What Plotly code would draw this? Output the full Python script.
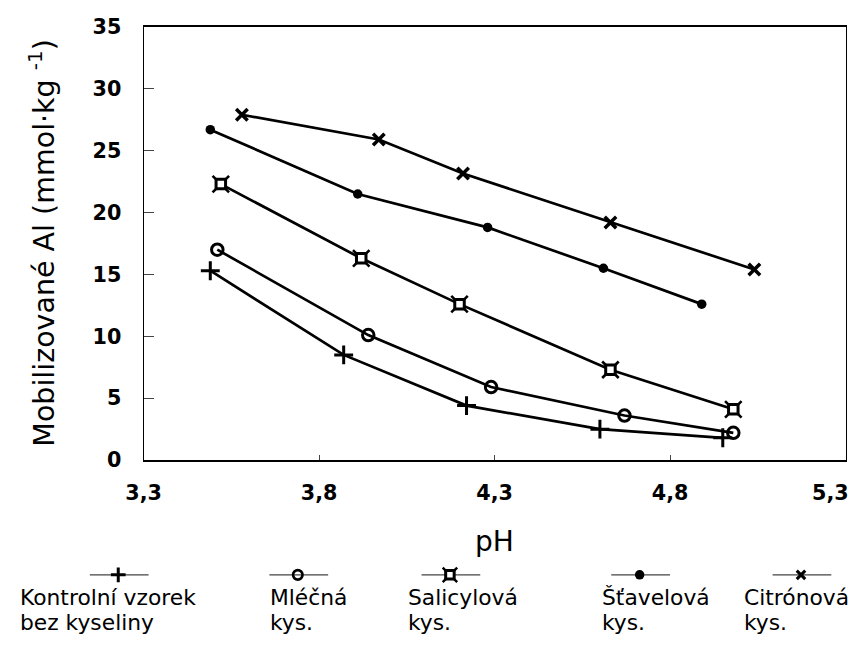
import plotly.graph_objects as go

# pH values and mobilised Al (mmol/kg) for each extraction
ph_kontrolni = [3.49, 3.87, 4.22, 4.60, 4.95]
al_kontrolni = [15.3, 8.5, 4.4, 2.5, 1.8]

ph_mlecna = [3.51, 3.94, 4.29, 4.67, 4.98]
al_mlecna = [17.0, 10.1, 5.9, 3.6, 2.2]

ph_salicylova = [3.52, 3.92, 4.20, 4.63, 4.98]
al_salicylova = [22.3, 16.3, 12.6, 7.3, 4.1]

ph_stavelova = [3.49, 3.91, 4.28, 4.61, 4.89]
al_stavelova = [26.7, 21.5, 18.8, 15.5, 12.6]

ph_citronova = [3.58, 3.97, 4.21, 4.63, 5.04]
al_citronova = [27.9, 25.9, 23.15, 19.2, 15.4]

# legend labels, two lines each
label_line1 = ["Kontrolní vzorek", "Mléčná", "Salicylová", "Šťavelová", "Citrónová"]
label_line2 = ["bez kyseliny", "kys.", "kys.", "kys.", "kys."]

x_tick_vals = [3.3, 3.8, 4.3, 4.8, 5.3]
x_tick_text = ["3,3", "3,8", "4,3", "4,8", "5,3"]
y_tick_vals = [0, 5, 10, 15, 20, 25, 30, 35]
y_tick_text = ["0", "5", "10", "15", "20", "25", "30", "35"]

W, H = 856, 648
PX_L, PX_R, PX_T, PX_B = 128.3, 845.4, 15.5, 465.3  # plot box in pixels

FONT = "DejaVu Sans, Liberation Sans, Arial, sans-serif"
BLACK = "#000000"

fig = go.Figure()

# marker styles for the five series
styles = [
    dict(symbol="cross-thin-open", size=13.5, color=BLACK, line=dict(width=3, color=BLACK)),
    dict(symbol="circle-open", size=11.5, color=BLACK, line=dict(width=3, color=BLACK)),
    None,  # salicylic acid: square with crossed corners (two layers)
    dict(symbol="circle", size=9.5, color=BLACK, line=dict(width=0, color=BLACK)),
    dict(symbol="x-thin-open", size=11.5, color=BLACK, line=dict(width=3.5, color=BLACK)),
]

data = [
    (ph_kontrolni, al_kontrolni),
    (ph_mlecna, al_mlecna),
    (ph_salicylova, al_salicylova),
    (ph_stavelova, al_stavelova),
    (ph_citronova, al_citronova),
]

for i, (xs, ys) in enumerate(data):
    name = label_line1[i] + " " + label_line2[i]
    fig.add_trace(go.Scatter(
        x=xs, y=ys, mode="lines", line=dict(color=BLACK, width=2.7),
        hoverinfo="skip", cliponaxis=False,
    ))
    if styles[i] is not None:
        fig.add_trace(go.Scatter(
            x=xs, y=ys, mode="markers", marker=styles[i], cliponaxis=False, name=name,
        ))
    else:
        fig.add_trace(go.Scatter(
            x=xs, y=ys, mode="markers", cliponaxis=False, hoverinfo="skip",
            marker=dict(symbol="x-thin-open", size=16.5, color=BLACK,
                        line=dict(width=2.6, color=BLACK)),
        ))
        fig.add_trace(go.Scatter(
            x=xs, y=ys, mode="markers", cliponaxis=False, name=name,
            marker=dict(symbol="square", size=9.5, color="white",
                        line=dict(width=3, color=BLACK)),
        ))

# legend samples on a full-page pixel axis (x2/y2)
leg_x = [102.4, 285.8, 441.2, 635.0, 799.8]
leg_text_x = [1.0, 256.8, 397.7, 595.6, 741.0]
leg_y = 584.5
leg_styles = [
    dict(symbol="cross-thin-open", size=10.5, color=BLACK, line=dict(width=3, color=BLACK)),
    dict(symbol="circle-open", size=9.5, color=BLACK, line=dict(width=2.6, color=BLACK)),
    None,
    dict(symbol="circle", size=9.5, color=BLACK, line=dict(width=0)),
    dict(symbol="x-thin-open", size=8.5, color=BLACK, line=dict(width=3, color=BLACK)),
]
for i, lx in enumerate(leg_x):
    fig.add_trace(go.Scatter(
        x=[lx - 29, lx + 31], y=[leg_y, leg_y], mode="lines",
        line=dict(color="#444444", width=1.2), xaxis="x2", yaxis="y2",
        hoverinfo="skip", cliponaxis=False,
    ))
    if leg_styles[i] is not None:
        fig.add_trace(go.Scatter(
            x=[lx], y=[leg_y], mode="markers", marker=leg_styles[i],
            xaxis="x2", yaxis="y2", hoverinfo="skip", cliponaxis=False,
        ))
    else:
        fig.add_trace(go.Scatter(
            x=[lx], y=[leg_y], mode="markers", xaxis="x2", yaxis="y2",
            hoverinfo="skip", cliponaxis=False,
            marker=dict(symbol="x-thin-open", size=14.5, color=BLACK,
                        line=dict(width=2.5, color=BLACK)),
        ))
        fig.add_trace(go.Scatter(
            x=[lx], y=[leg_y], mode="markers", xaxis="x2", yaxis="y2",
            hoverinfo="skip", cliponaxis=False,
            marker=dict(symbol="square", size=8.5, color="white",
                        line=dict(width=3, color=BLACK)),
        ))

LEG_FONT = dict(family=FONT, size=21.8, color=BLACK)
ROW1_Y, ROW2_Y = 608.5, 634.3
annotations = []
for i, tx in enumerate(leg_text_x):
    for text, ry in ((label_line1[i], ROW1_Y), (label_line2[i], ROW2_Y)):
        annotations.append(dict(
            x=tx / W, y=1 - ry / H, xref="paper", yref="paper",
            xanchor="left", yanchor="middle", align="left", showarrow=False,
            borderpad=0, text=text, font=LEG_FONT,
        ))

annotations.append(dict(
    x=24.7 / W, y=1 - 240.4 / H, xref="paper", yref="paper",
    xanchor="center", yanchor="middle", textangle=-90, showarrow=False,
    text="Mobilizované Al (mmol·kg <sup>-1</sup>)",
    font=dict(family=FONT, size=28.5, color=BLACK),
))
annotations.append(dict(
    x=486.8 / W, y=1 - 550.3 / H, xref="paper", yref="paper",
    xanchor="center", yanchor="middle", showarrow=False,
    text="pH", font=dict(family=FONT, size=28, color=BLACK),
))

TICK_FONT = dict(family=FONT, size=20.7, color=BLACK, weight="bold")

# the last x label would run past the page edge, so it is right-aligned there
annotations.append(dict(
    x=850 / W, y=1 - 499.5 / H, xref="paper", yref="paper",
    xanchor="right", yanchor="middle", showarrow=False, borderpad=0,
    text=x_tick_text[-1], font=TICK_FONT,
))
x_tick_shown = x_tick_text[:-1] + [""]

fig.update_layout(
    width=W, height=H,
    margin=dict(l=0, r=0, t=0, b=0),
    paper_bgcolor="white",
    plot_bgcolor="rgba(0,0,0,0)",
    showlegend=False,
    font=dict(family=FONT, color=BLACK),
    annotations=annotations,
    xaxis=dict(
        domain=[PX_L / W, PX_R / W], range=[3.3, 5.3],
        tickvals=x_tick_vals, ticktext=x_tick_shown,
        ticks="inside", ticklen=5, tickwidth=1, tickcolor="#444444",
        showline=True, linecolor=BLACK, linewidth=1.5, mirror=True,
        showgrid=False, zeroline=False, fixedrange=True,
        tickfont=TICK_FONT, ticklabelstandoff=13, anchor="y",
    ),
    yaxis=dict(
        domain=[1 - PX_B / H, 1 - PX_T / H], range=[0, 35],
        tickvals=y_tick_vals, ticktext=y_tick_text,
        ticks="inside", ticklen=10, tickwidth=1, tickcolor="#444444",
        showline=True, linecolor=BLACK, linewidth=1.3, mirror=True,
        showgrid=False, zeroline=False, fixedrange=True,
        tickfont=TICK_FONT, ticklabelstandoff=17, anchor="x",
    ),
    xaxis2=dict(domain=[0, 1], range=[0, W], visible=False, fixedrange=True, anchor="y2"),
    yaxis2=dict(domain=[0, 1], range=[H, 0], visible=False, fixedrange=True, anchor="x2"),
)

fig.write_html("out.html")
